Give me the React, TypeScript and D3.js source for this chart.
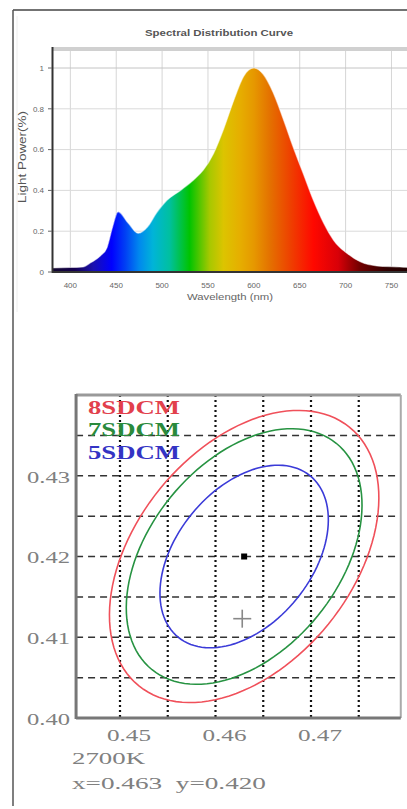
import React from "react";
import * as d3 from "d3";

// ---------- Spectrum data ----------
const wavelengths = [380, 400, 414, 422, 433, 440, 446, 452, 463, 474, 484, 494, 505, 520, 534, 545, 556, 567, 578, 589, 600, 610, 621, 632, 643, 654, 665, 676, 687, 702, 716, 734, 759, 780];
const intensity = [0.02, 0.022, 0.025, 0.045, 0.08, 0.12, 0.22, 0.295, 0.24, 0.19, 0.22, 0.29, 0.35, 0.4, 0.45, 0.5, 0.58, 0.7, 0.84, 0.96, 1.0, 0.97, 0.88, 0.75, 0.61, 0.48, 0.35, 0.24, 0.155, 0.09, 0.05, 0.03, 0.025, 0.02];
const xTicksNm = [400, 450, 500, 550, 600, 650, 700, 750];
const yTicksRel = [0, 0.2, 0.4, 0.6, 0.8, 1];
const yTickLabels = ["0", "0.2", "0.4", "0.6", "0.8", "1"];
const gradWl = [380, 405, 425, 445, 460, 475, 490, 508, 530, 552, 567, 585, 600, 618, 640, 665, 692, 716, 745, 780];
const gradColors = ["#14082e", "#140050", "#1a10b0", "#0000ff", "#0040f4", "#0088ee", "#00b4d8", "#00c0a0", "#00c400", "#a8c800", "#dcc400", "#e6ae00", "#e69800", "#e47000", "#ee4000", "#ff0800", "#d80008", "#700000", "#300000", "#1a0000"];

// ---------- Chromaticity data ----------
const ellipseSteps = [8, 7, 5];
const ellipseColors = ["#f0505a", "#279342", "#3b3bd8"];
const legendLabels = ["8SDCM", "7SDCM", "5SDCM"];
const legendColors = ["#e2404c", "#2a8a3c", "#3434c4"];
const ellipseCenter = [0.463, 0.42];
const stepA = 0.00245;
const stepB = 0.00149;
const ellipseAngleDeg = 61;
const measuredPoint = [0.4628, 0.4123];
const cieXTicks = [0.45, 0.46, 0.47];
const cieXGrid = [0.45, 0.455, 0.46, 0.465, 0.47, 0.475];
const cieYTicks = [0.40, 0.41, 0.42, 0.43];
const cieYGrid = [0.405, 0.41, 0.415, 0.42, 0.425, 0.43, 0.435];
const cctLabel = "2700K";
const coordLabel = "x=0.463  y=0.420";

export default function App() {
  // top chart scales
  const xS = d3.scaleLinear().domain([380, 780]).range([52, 419]);
  const yS = d3.scaleLinear().domain([0, 1]).range([272, 68]);
  const pts = wavelengths.map((w, i) => [w, intensity[i]] as [number, number]);
  const area = d3
    .area<[number, number]>()
    .x((d) => xS(d[0]))
    .y0(yS(0))
    .y1((d) => yS(d[1]))
    .curve(d3.curveMonotoneX);
  const line = d3
    .line<[number, number]>()
    .x((d) => xS(d[0]))
    .y((d) => yS(d[1]))
    .curve(d3.curveMonotoneX);

  // bottom chart scales
  const cx = d3.scaleLinear().domain([0.45, 0.47]).range([120, 311]);
  const cy = d3.scaleLinear().domain([0.4, 0.44]).range([718, 395]);
  const pL = cx(0.4454), pR = cx(0.4794), pT = cy(0.44), pB = cy(0.4);
  const th = (ellipseAngleDeg * Math.PI) / 180;
  const ellLine = d3.line<[number, number]>().curve(d3.curveLinearClosed);
  const ellipses = ellipseSteps.map((s) => {
    const a = stepA * s, b = stepB * s;
    const p = d3.range(0, 360, 3).map((deg) => {
      const t = (deg * Math.PI) / 180;
      const dx = a * Math.cos(t) * Math.cos(th) - b * Math.sin(t) * Math.sin(th);
      const dy = a * Math.cos(t) * Math.sin(th) + b * Math.sin(t) * Math.cos(th);
      return [cx(ellipseCenter[0] + dx), cy(ellipseCenter[1] + dy)] as [number, number];
    });
    return ellLine(p) as string;
  });

  const serif = "'Liberation Serif', 'DejaVu Serif', serif";
  const sans = "'Liberation Sans', Arial, sans-serif";

  return (
    <svg width={407} height={809} style={{ position: "absolute", left: 0, top: 0, background: "#fff" }}>
      <defs>
        <linearGradient id="spec" gradientUnits="userSpaceOnUse" x1={xS(380)} x2={xS(780)} y1={0} y2={0}>
          {gradWl.map((w, i) => (
            <stop key={i} offset={(w - 380) / 400} stopColor={gradColors[i]} />
          ))}
        </linearGradient>
        <clipPath id="plotClip">
          <rect x={pL} y={pT} width={pR - pL} height={pB - pT} />
        </clipPath>
      </defs>
      <rect x={0} y={0} width={407} height={809} fill="#fff" />

      {/* outer frame lines */}
      <line x1={13} y1={10} x2={407} y2={10} stroke="#444" strokeWidth={1.5} />
      <line x1={13} y1={10} x2={13} y2={806} stroke="#555" strokeWidth={1.5} />
      <line x1={17} y1={16} x2={17} y2={312} stroke="#eee" strokeWidth={1} />

      {/* ---------- Top chart ---------- */}
      <text x={219} y={33} textAnchor="middle" dy="0.35em" fontFamily={sans} fontSize={9} fontWeight="bold" fill="#555" textLength={148} lengthAdjust="spacingAndGlyphs">
        Spectral Distribution Curve
      </text>
      {xTicksNm.map((t) => (
        <line key={"vg" + t} x1={xS(t)} x2={xS(t)} y1={50} y2={272} stroke="#d6d6d6" strokeWidth={1} />
      ))}
      {yTicksRel.slice(1).map((t) => (
        <line key={"hg" + t} x1={52} x2={407} y1={yS(t)} y2={yS(t)} stroke={t === 1 ? "#c4c4c4" : "#dadada"} strokeWidth={1} />
      ))}
      <line x1={52} x2={407} y1={49} y2={49} stroke="#d0d0d0" strokeWidth={4} />
      <path d={area(pts) as string} fill="url(#spec)" />
      <path d={line(pts) as string} fill="none" stroke="#fff" strokeOpacity={0.5} strokeWidth={1.2} />
      <line x1={52.5} x2={52.5} y1={47} y2={273} stroke="#333" strokeWidth={2} />
      <line x1={52} x2={407} y1={272} y2={272} stroke="#333" strokeWidth={2} />
      {yTicksRel.map((t, i) => (
        <g key={"yt" + t}>
          <line x1={48} x2={52} y1={yS(t)} y2={yS(t)} stroke="#666" strokeWidth={1} />
          <text x={44} y={yS(t)} dy="0.35em" textAnchor="end" fontFamily={sans} fontSize={8} fill="#666">
            {yTickLabels[i]}
          </text>
        </g>
      ))}
      {xTicksNm.map((t) => (
        <text key={"xt" + t} x={xS(t)} y={285} dy="0.35em" textAnchor="middle" fontFamily={sans} fontSize={8} fill="#666">
          {t}
        </text>
      ))}
      <text x={230} y={297} dy="0.35em" textAnchor="middle" fontFamily={sans} fontSize={9} fill="#666" textLength={86} lengthAdjust="spacingAndGlyphs">
        Wavelength (nm)
      </text>
      <text transform="translate(22,157) rotate(-90)" textAnchor="middle" dy="0.35em" fontFamily={sans} fontSize={10} fill="#555" textLength={92} lengthAdjust="spacingAndGlyphs">
        Light Power(%)
      </text>

      {/* ---------- Bottom chart ---------- */}
      <rect x={pL} y={pT} width={pR - pL} height={pB - pT} fill="#fff" />
      {cieYGrid.map((v) => (
        <line key={"cy" + v} x1={pL} x2={pR} y1={cy(v)} y2={cy(v)} stroke="#333" strokeWidth={1.5} strokeDasharray="7,5" />
      ))}
      {cieXGrid.map((v) => (
        <line key={"cx" + v} x1={cx(v)} x2={cx(v)} y1={pT} y2={pB} stroke="#111" strokeWidth={2.2} strokeDasharray="2,3" />
      ))}
      <g clipPath="url(#plotClip)">
        {ellipses.map((d, i) => (
          <path key={"el" + i} d={d} fill="none" stroke={ellipseColors[i]} strokeWidth={1.6} />
        ))}
      </g>
      <rect x={cx(ellipseCenter[0]) - 3} y={cy(ellipseCenter[1]) - 3} width={6} height={6} fill="#000" />
      <line x1={cx(measuredPoint[0]) - 9} x2={cx(measuredPoint[0]) + 9} y1={cy(measuredPoint[1])} y2={cy(measuredPoint[1])} stroke="#888" strokeWidth={1.6} />
      <line x1={cx(measuredPoint[0])} x2={cx(measuredPoint[0])} y1={cy(measuredPoint[1]) - 9} y2={cy(measuredPoint[1]) + 9} stroke="#888" strokeWidth={1.6} />
      {legendLabels.map((l, i) => (
        <text key={l + i} x={88} y={407 + i * 22.5} dy="0.35em" fontFamily={serif} fontSize={19} fontWeight="bold" fill={legendColors[i]} textLength={92} lengthAdjust="spacingAndGlyphs">
          {l}
        </text>
      ))}
      {/* frame */}
      <line x1={pL} x2={pR} y1={pT} y2={pT} stroke="#999" strokeWidth={3} />
      <line x1={pR} x2={pR} y1={pT} y2={pB} stroke="#aaa" strokeWidth={2} />
      <line x1={pL} x2={pL} y1={pT - 1} y2={pB + 1} stroke="#777" strokeWidth={3} />
      <line x1={pL} x2={pR} y1={pB} y2={pB} stroke="#777" strokeWidth={3} />

      {cieYTicks.map((v) => (
        <text key={"yl" + v} x={70} y={cy(v) + 1} dy="0.35em" textAnchor="end" fontFamily={serif} fontSize={17} fill="#808080" textLength={43} lengthAdjust="spacingAndGlyphs">
          {v.toFixed(2)}
        </text>
      ))}
      {cieXTicks.map((v) => (
        <text key={"xl" + v} x={cx(v) + 9} y={735} dy="0.35em" textAnchor="middle" fontFamily={serif} fontSize={17} fill="#808080" textLength={44} lengthAdjust="spacingAndGlyphs">
          {v.toFixed(2)}
        </text>
      ))}
      <text x={72} y={758} dy="0.35em" fontFamily={serif} fontSize={17} fill="#808080" textLength={73} lengthAdjust="spacingAndGlyphs">
        {cctLabel}
      </text>
      <text x={72} y={783} dy="0.35em" fontFamily={serif} fontSize={17} fill="#808080" textLength={194} lengthAdjust="spacingAndGlyphs" style={{ whiteSpace: "pre" }}>
        {coordLabel}
      </text>
    </svg>
  );
}
